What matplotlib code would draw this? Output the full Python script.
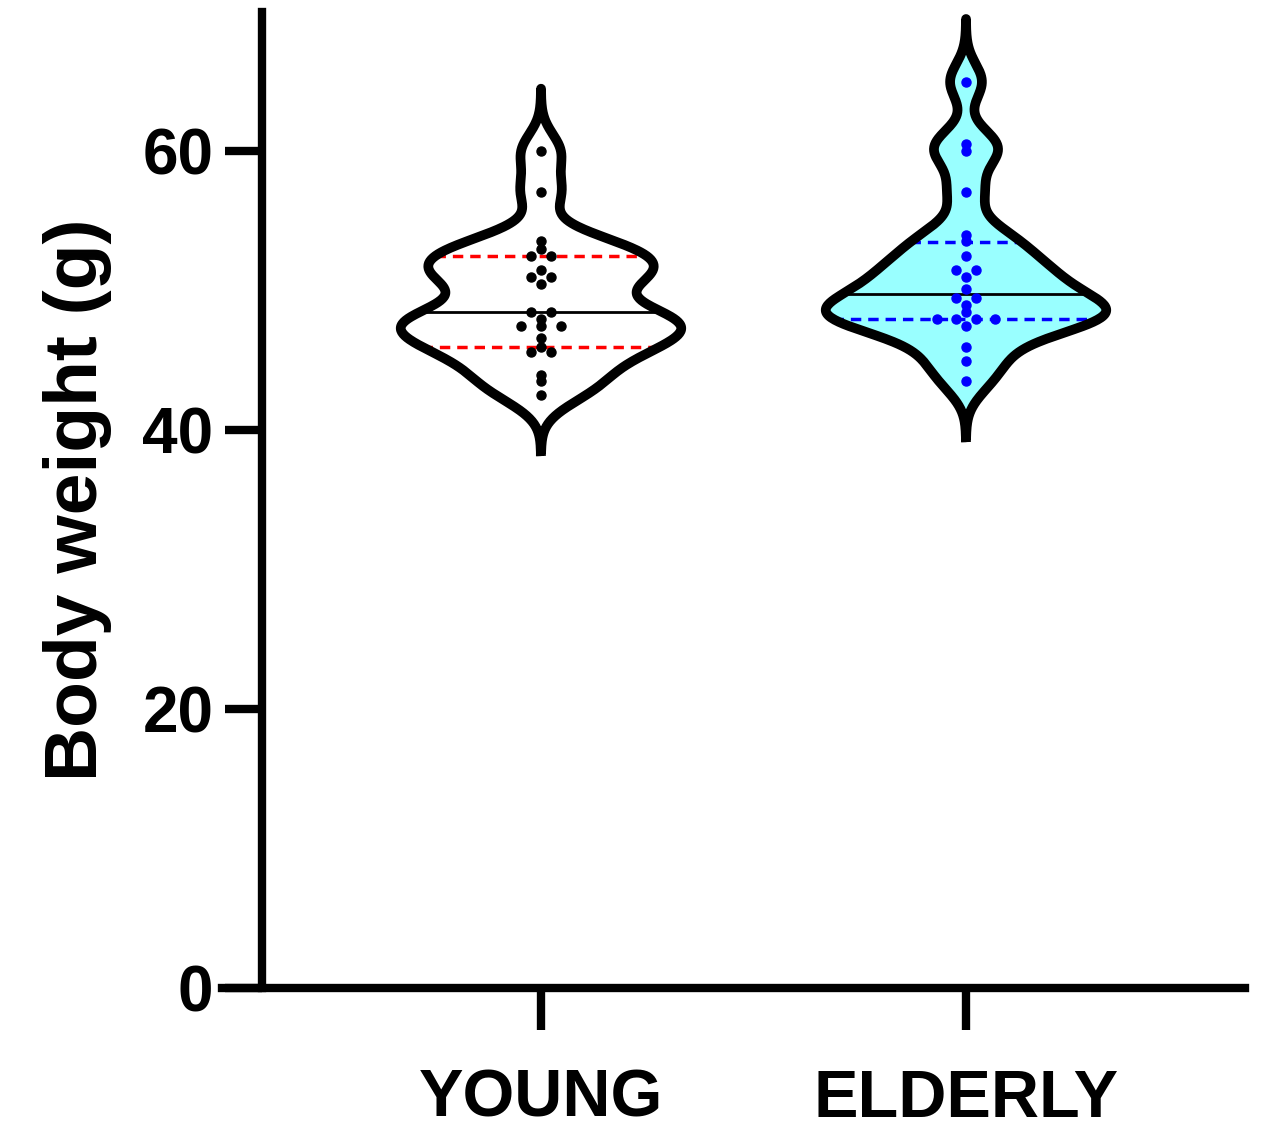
import numpy as np
import matplotlib
matplotlib.use("Agg")
import matplotlib.pyplot as plt
from collections import defaultdict

categories = ["YOUNG", "ELDERLY"]
young = [60.0, 57.1, 53.6, 53.0, 52.5, 52.5, 51.0, 51.0, 51.5, 50.5, 48.5, 48.5, 48.0,
         47.5, 47.5, 47.5, 46.6, 46.0, 45.6, 45.6, 44.0, 43.5, 42.5]
elderly = [65.0, 60.5, 60.0, 57.1, 54.0, 53.6, 52.5, 51.5, 51.5, 51.0, 50.1, 49.5, 49.5,
           49.0, 48.5, 48.0, 48.0, 48.0, 48.0, 47.5, 46.0, 45.0, 43.5]
medians = [48.5, 49.8]
quartiles = [(46.0, 52.5), (48.0, 53.5)]
fills = ["white", "#99FFFF"]
dot_colors = ["black", "#0000FF"]
q_colors = ["#FF0000", "#0000FF"]
yticks = [0, 20, 40, 60]

plt.rcParams['font.family'] = ['Liberation Sans', 'DejaVu Sans']
fig = plt.figure(figsize=(12.67, 11.36), dpi=100)
ax = fig.add_axes([222/1267, 1-988/1136, (1245-222)/1267, (988-12)/1136])
ax.set_xlim(1 - (541-222)/425, 2 + (1245-966)/425)
ax.set_ylim(0, 70)

def kde(data, grid, bw):
    d = np.asarray(data)[:, None]
    return np.exp(-0.5*((grid[None, :]-d)/bw)**2).sum(axis=0)

halfmax = 0.33
for i, data in enumerate([young, elderly]):
    pos = i + 1
    bw = 1.3
    grid = np.linspace(min(data)-4.0, max(data)+4.5, 400)
    dens = kde(data, grid, bw)
    w = dens / dens.max() * halfmax
    ax.fill_betweenx(grid, pos - w, pos + w, facecolor=fills[i], edgecolor='none', zorder=1)
    xs = np.concatenate([pos - w, (pos + w)[::-1], [pos - w[0]]])
    ys = np.concatenate([grid, grid[::-1], [grid[0]]])
    ax.plot(xs, ys, color='black', lw=7, zorder=4, solid_joinstyle='round')
    mw = np.interp(medians[i], grid, w)
    ax.plot([pos - mw, pos + mw], [medians[i]]*2, color='black', lw=2, zorder=3)
    for q in quartiles[i]:
        qw = np.interp(q, grid, w)
        ax.plot([pos - qw, pos + qw], [q]*2, color=q_colors[i], lw=2.5, ls=(0, (3, 2)), zorder=3)
    groups = defaultdict(list)
    for v in sorted(data, reverse=True):
        groups[round(v*2)/2].append(v)
    for key, g in groups.items():
        n = len(g)
        offs = (np.arange(n) - (n-1)/2) * 0.046
        ax.plot(pos + offs, g, 'o', color=dot_colors[i], ms=6.5, zorder=5)

for s in ['top', 'right']:
    ax.spines[s].set_visible(False)
ax.spines['left'].set_position(('data', 1 - (541-262)/425))
ax.spines['left'].set_linewidth(6)
ax.spines['bottom'].set_linewidth(6)
ax.set_yticks(yticks)
ax.set_yticklabels([str(t) for t in yticks], fontsize=46, fontweight='bold')
ax.set_xticks([1, 2])
ax.set_xticklabels(categories, fontsize=48, fontweight='bold')
ax.tick_params(axis='y', length=27, width=6, pad=8)
ax.tick_params(axis='x', length=30, width=6, pad=28)
ax.set_ylabel("Body weight (g)", fontsize=54, fontweight='bold', labelpad=22)
fig.savefig("out.png", dpi=100)
